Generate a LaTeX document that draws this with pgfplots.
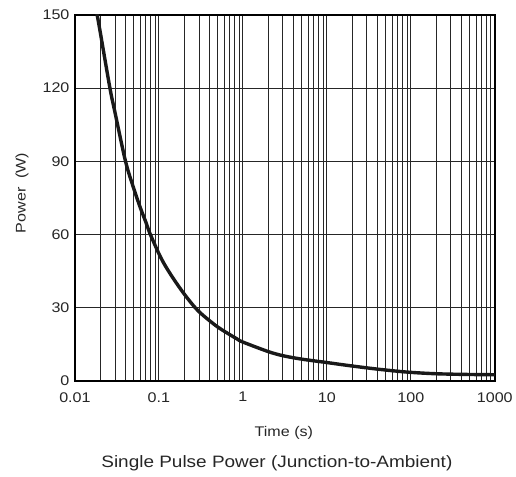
\documentclass[border=0pt]{standalone}
\usepackage{fontspec}
\setmainfont[FakeStretch=1.15]{Liberation Sans}
\usepackage{pgfplots}
\pgfplotsset{compat=1.18}
\begin{document}
\begin{tikzpicture}
\begin{axis}[
  scale only axis,
  width=420pt, height=366pt,
  xmode=log,
  xmin=0.01, xmax=1000,
  ymin=0, ymax=150,
  xtick={0.01,0.1,1,10,100,1000},
  xticklabels={0.01,0.1,1,10,100,1000},
  minor xtick={0.02,0.03,0.04,0.05,0.06,0.07,0.08,0.09,
               0.2,0.3,0.4,0.5,0.6,0.7,0.8,0.9,
               2,3,4,5,6,7,8,9,
               20,30,40,50,60,70,80,90,
               200,300,400,500,600,700,800,900},
  ytick={0,30,60,90,120,150},
  grid=both,
  major grid style={black!85, line width=0.9pt},
  minor grid style={black!85, line width=0.9pt},
  axis line style={black, line width=2pt},
  tick style={draw=none},
  /pgf/number format/assume math mode=true,
  tick label style={font=\fontsize{14}{16}\selectfont, text=black!85},
  xticklabel style={yshift=-8pt},
  yticklabel style={xshift=-2pt},
  clip=true,
]
\addplot[black!90, line width=3.4pt, smooth] coordinates {
(0.0180,152)
(0.0184,150)
(0.020,143)
(0.0261,120)
(0.030,110)
(0.040,90)
(0.050,79)
(0.060,71)
(0.070,65)
(0.078,60.5)
(0.100,52.1)
(0.118,47.4)
(0.150,41.7)
(0.200,35.6)
(0.261,30.6)
(0.322,27.4)
(0.500,22.1)
(0.840,17.3)
(1.00,15.9)
(2.00,12)
(3.00,10.3)
(5.00,8.9)
(10.0,7.5)
(18.8,6.2)
(40,4.8)
(89,3.6)
(200,2.9)
(500,2.6)
(1000,2.5)
};
\end{axis}
\node[rotate=90, font=\fontsize{14}{16}\selectfont, text=black!85] at (-53pt,188pt) {Power\ \ (W)};
\node[font=\fontsize{14}{16}\selectfont, text=black!85] at (209pt,-52pt) {Time (s)};
\node[font=\fontsize{16.5}{18}\selectfont, text=black!85] at (202pt,-82pt) {Single Pulse Power (Junction-to-Ambient)};
\path (-75pt,-96pt) rectangle (441pt,381pt);
\end{tikzpicture}
\end{document}
